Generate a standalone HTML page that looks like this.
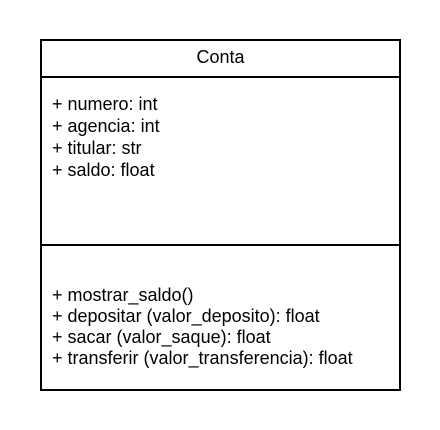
<!DOCTYPE html>
<html><head><style>
html,body{margin:0;width:440px;height:430px;overflow:hidden}
body{background:#fff;position:relative;font-family:"Liberation Sans",sans-serif;font-size:18px;color:#000}
.b{position:absolute;background:#000}
.t{position:absolute;white-space:nowrap;line-height:22px}
</style></head><body>
<div class="b" style="left:40px;top:39px;width:361px;height:2px"></div>
<div class="b" style="left:40px;top:389px;width:361px;height:2px"></div>
<div class="b" style="left:40px;top:39px;width:2px;height:352px"></div>
<div class="b" style="left:399px;top:39px;width:2px;height:352px"></div>
<div class="b" style="left:40px;top:76px;width:361px;height:2px"></div>
<div class="b" style="left:40px;top:244px;width:361px;height:2px"></div>
<div class="t" style="left:40px;width:361px;text-align:center;top:46px">Conta</div>
<div class="t" style="left:52px;top:93px">+ numero: int<br>+ agencia: int<br>+ titular: str<br>+ saldo: float</div>
<div class="t" style="left:52px;top:285px;line-height:21px">+ mostrar_saldo()<br>+ depositar (valor_deposito): float<br>+ sacar (valor_saque): float<br>+ transferir (valor_transferencia): float</div>
</body></html>
